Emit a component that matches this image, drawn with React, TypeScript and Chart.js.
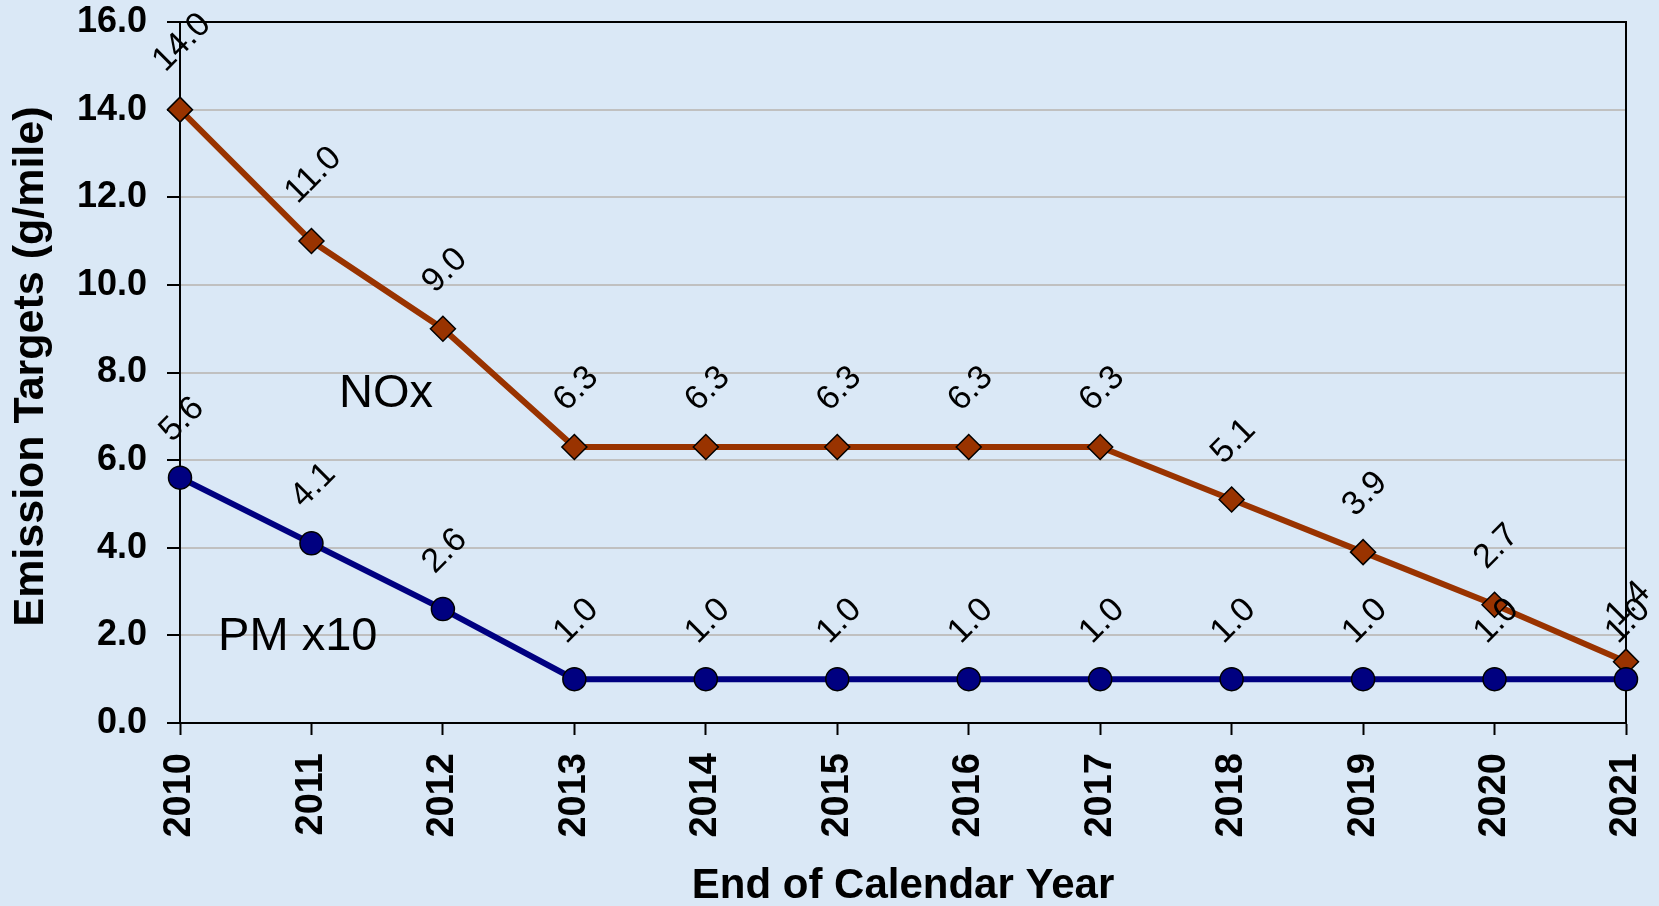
import React, { useEffect, useRef } from "react";
import { Chart, registerables } from "chart.js";

Chart.register(...registerables);

const FONT = 'Arial, "Liberation Sans", Helvetica, sans-serif';

// ---- data ----
const years = ["2010", "2011", "2012", "2013", "2014", "2015", "2016", "2017", "2018", "2019", "2020", "2021"];
const noxValues = [14.0, 11.0, 9.0, 6.3, 6.3, 6.3, 6.3, 6.3, 5.1, 3.9, 2.7, 1.4];
const pmValues = [5.6, 4.1, 2.6, 1.0, 1.0, 1.0, 1.0, 1.0, 1.0, 1.0, 1.0, 1.0];
const seriesNames = ["NOx", "PM x10"];
const yMin = 0;
const yMax = 16;
const yStep = 2;
const yAxisTitle = "Emission Targets (g/mile)";
const xAxisTitle = "End of Calendar Year";

// annotation text anchors, in data units (category index, value)
const noxTextAnchor = { x: 1.21, y: 7.21 };
const pmTextAnchor = { x: 0.29, y: 1.66 };

const NOX_COLOR = "#993300";
const PM_COLOR = "#000080";

export default function App() {
  const ref = useRef<HTMLCanvasElement | null>(null);

  useEffect(() => {
    const canvas = ref.current;
    if (!canvas) return;

    const bgPlugin = {
      id: "bg",
      beforeDraw(chart: any) {
        const { ctx, width, height } = chart;
        ctx.save();
        ctx.fillStyle = "#dae8f6";
        ctx.fillRect(0, 0, width, height);
        ctx.restore();
      },
      beforeDatasetsDraw(chart: any) {
        const { ctx, chartArea } = chart;
        ctx.save();
        ctx.strokeStyle = "#000";
        ctx.lineWidth = 2;
        ctx.beginPath();
        ctx.moveTo(chartArea.left, chartArea.top);
        ctx.lineTo(chartArea.right, chartArea.top);
        ctx.lineTo(chartArea.right, chartArea.bottom);
        ctx.stroke();
        ctx.restore();
      },
      afterDraw(chart: any) {
        const { ctx, chartArea } = chart;
        ctx.save();
        ctx.fillStyle = "#000";
        ctx.textAlign = "center";
        ctx.textBaseline = "middle";
        // x axis title
        ctx.font = "bold 42px " + FONT;
        ctx.fillText(xAxisTitle, (chartArea.left + chartArea.right) / 2, 886);
        // y axis title
        ctx.font = "bold 43px " + FONT;
        ctx.translate(31, (chartArea.top + chartArea.bottom) / 2 - 6);
        ctx.rotate(-Math.PI / 2);
        ctx.fillText(yAxisTitle, 0, 0);
        ctx.restore();
      },
    };

    const labelPlugin = {
      id: "valueLabels",
      afterDatasetsDraw(chart: any) {
        const { ctx } = chart;
        ctx.save();
        ctx.font = "34px " + FONT;
        ctx.fillStyle = "#000";
        ctx.textAlign = "center";
        ctx.textBaseline = "middle";
        chart.data.datasets.forEach((ds: any, di: number) => {
          const meta = chart.getDatasetMeta(di);
          meta.data.forEach((pt: any, i: number) => {
            const txt = Number(ds.data[i]).toFixed(1);
            const w = ctx.measureText(txt).width;
            const cx = pt.x + 2;
            const cy = pt.y - 35.5 - 0.476 * w;
            ctx.save();
            ctx.translate(cx, cy);
            ctx.rotate(-Math.PI / 4);
            ctx.fillText(txt, 0, 0);
            ctx.restore();
          });
        });
        // series annotations
        const xs = chart.scales.x;
        const ys = chart.scales.y;
        ctx.font = "47px " + FONT;
        ctx.textAlign = "left";
        ctx.textBaseline = "alphabetic";
        ctx.fillText(seriesNames[0], xs.getPixelForValue(noxTextAnchor.x), ys.getPixelForValue(noxTextAnchor.y));
        ctx.fillText(seriesNames[1], xs.getPixelForValue(pmTextAnchor.x), ys.getPixelForValue(pmTextAnchor.y));
        ctx.restore();
      },
    };

    const chart = new Chart(canvas, {
      type: "line",
      data: {
        labels: years,
        datasets: [
          {
            label: seriesNames[1],
            data: pmValues,
            order: 0,
            borderColor: PM_COLOR,
            backgroundColor: PM_COLOR,
            borderWidth: 6,
            pointStyle: "circle",
            pointRadius: 11.5,
            pointBorderWidth: 1.5,
            pointBorderColor: "#000",
            pointBackgroundColor: PM_COLOR,
            tension: 0,
          },
          {
            label: seriesNames[0],
            data: noxValues,
            order: 1,
            borderColor: NOX_COLOR,
            backgroundColor: NOX_COLOR,
            borderWidth: 6,
            pointStyle: "rectRot",
            pointRadius: 12.5,
            pointBorderWidth: 1.5,
            pointBorderColor: "#000",
            pointBackgroundColor: NOX_COLOR,
            tension: 0,
          },
        ],
      },
      options: {
        animation: false,
        responsive: false,
        devicePixelRatio: 1,
        layout: { padding: 0 },
        plugins: {
          legend: { display: false },
          tooltip: { enabled: false },
        },
        scales: {
          x: {
            type: "category",
            offset: false,
            grid: {
              drawOnChartArea: false,
              drawTicks: true,
              tickLength: 12,
              tickColor: "#000",
              tickWidth: 2,
            },
            border: { color: "#000", width: 2 },
            ticks: {
              autoSkip: false,
              maxRotation: 90,
              minRotation: 90,
              padding: 18,
              color: "#000",
              font: { family: FONT, size: 38, weight: "bold" },
            },
            title: { display: false },
            afterFit(scale: any) {
              scale.height = 183;
              scale.paddingLeft = 0;
              scale.paddingRight = 33;
              scale.paddingTop = 0;
              scale.paddingBottom = 0;
            },
          },
          y: {
            min: yMin,
            max: yMax,
            grid: {
              color: "#c0c0c0",
              lineWidth: 2,
              drawTicks: true,
              tickLength: 13,
              tickColor: "#000",
              tickWidth: 2,
            },
            border: { color: "#000", width: 2 },
            ticks: {
              stepSize: yStep,
              padding: 20,
              color: "#000",
              font: { family: FONT, size: 36, weight: "bold" },
              callback: (v: any) => Number(v).toFixed(1),
            },
            title: { display: false },
            afterFit(scale: any) {
              scale.width = 180;
              scale.paddingTop = 22;
              scale.paddingBottom = 0;
              scale.paddingLeft = 0;
              scale.paddingRight = 0;
            },
          },
        },
      } as any,
      plugins: [bgPlugin, labelPlugin],
    });

    return () => chart.destroy();
  }, []);

  return (
    <div style={{ position: "absolute", left: 0, top: 0, width: 1659, height: 906 }}>
      <canvas ref={ref} width={1659} height={906} style={{ display: "block", width: 1659, height: 906 }} />
    </div>
  );
}
